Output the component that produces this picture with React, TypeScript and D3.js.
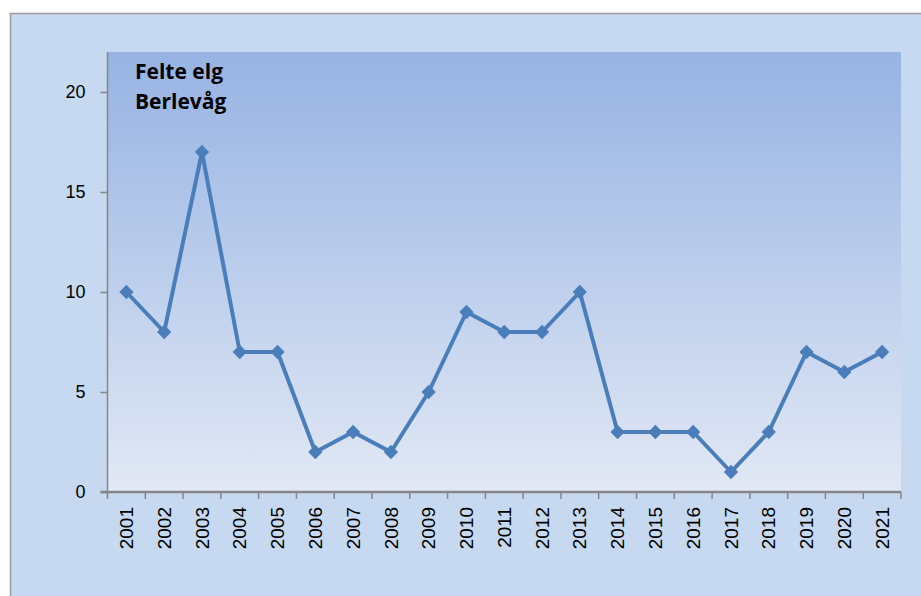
import * as d3 from 'd3';
import { useEffect, useRef } from 'react';

const years = ['2001', '2002', '2003', '2004', '2005', '2006', '2007', '2008', '2009', '2010', '2011',
  '2012', '2013', '2014', '2015', '2016', '2017', '2018', '2019', '2020', '2021'];
const felte = [10, 8, 17, 7, 7, 2, 3, 2, 5, 9, 8, 8, 10, 3, 3, 3, 1, 3, 7, 6, 7];
const yTicks = [0, 5, 10, 15, 20];
const titleLines = ['Felte elg', 'Berlevåg'];

export default function App() {
  const svgRef = useRef<SVGSVGElement>(null);

  useEffect(() => {
    const svg = d3.select(svgRef.current);
    svg.selectAll('*').remove();

    const width = 921;
    const height = 596;
    const left = 107.5;
    const right = 901;
    const top = 52;
    const bottom = 492;

    const x = d3.scaleBand<string>().domain(years).range([left, right]);
    const y = d3.scaleLinear().domain([0, 22]).range([bottom, top]);

    // gradient for plot area
    const defs = svg.append('defs');
    const grad = defs.append('linearGradient')
      .attr('id', 'plotGrad')
      .attr('x1', 0).attr('y1', 0).attr('x2', 0).attr('y2', 1);
    grad.append('stop').attr('offset', '0%').attr('stop-color', '#96b3e3');
    grad.append('stop').attr('offset', '100%').attr('stop-color', '#e2e8f5');

    // chart area
    svg.append('rect')
      .attr('x', 10.5).attr('y', 13.5)
      .attr('width', width).attr('height', height)
      .attr('fill', '#c6d9f0')
      .attr('stroke', '#9c9c9c')
      .attr('stroke-width', 1.5);

    svg.append('rect')
      .attr('x', left).attr('y', top)
      .attr('width', right - left).attr('height', bottom - top)
      .attr('fill', 'url(#plotGrad)');

    // y axis
    const yAxis = svg.append('g')
      .attr('transform', `translate(${left},0)`)
      .call(d3.axisLeft(y).tickValues(yTicks).tickSize(7).tickPadding(15))
      .call(g => g.select('.domain').attr('stroke', '#868686').attr('stroke-width', 1.5)
        .attr('d', `M0,${top}V${bottom}`));
    yAxis.selectAll('.tick line').attr('stroke', '#868686').attr('stroke-width', 1.5);
    yAxis.selectAll('text')
      .attr('fill', '#000')
      .style('font-family', '"Liberation Sans", Arial, sans-serif')
      .style('font-size', '18px');

    // x axis
    const xAxis = svg.append('g')
      .attr('transform', `translate(0,${bottom})`)
      .call(d3.axisBottom(x).tickSize(0).tickPadding(0))
      .call(g => g.select('.domain').attr('stroke', '#868686').attr('stroke-width', 2.5)
        .attr('d', `M${left - 7},0H${right}`));
    xAxis.selectAll('.tick line').remove();
    xAxis.selectAll('.tick text')
      .attr('fill', '#000')
      .attr('transform', 'rotate(-90)')
      .attr('x', -15)
      .attr('y', 0)
      .attr('dy', '0.35em')
      .attr('text-anchor', 'end')
      .style('font-family', '"Liberation Sans", Arial, sans-serif')
      .style('font-size', '19px');

    // category boundary ticks
    const bounds = years.map(d => x(d)!).concat([right]);
    xAxis.append('g').selectAll('line')
      .data(bounds)
      .join('line')
      .attr('x1', d => d).attr('x2', d => d)
      .attr('y1', 0).attr('y2', 7)
      .attr('stroke', '#868686')
      .attr('stroke-width', 1.5);

    // line
    const cx = (d: string) => x(d)! + x.bandwidth() / 2;
    const line = d3.line<number>()
      .x((_, i) => cx(years[i]))
      .y(d => y(d));

    svg.append('path')
      .datum(felte)
      .attr('fill', 'none')
      .attr('stroke', '#4a7ebb')
      .attr('stroke-width', 4)
      .attr('stroke-linejoin', 'round')
      .attr('d', line);

    svg.append('g').selectAll('path')
      .data(felte)
      .join('path')
      .attr('transform', (d, i) => `translate(${cx(years[i])},${y(d)})`)
      .attr('d', d3.symbol(d3.symbolDiamond2, 130)())
      .attr('fill', '#4a7ebb');

    // title
    svg.append('g').selectAll('text')
      .data(titleLines)
      .join('text')
      .attr('x', 135)
      .attr('y', (_, i) => 79 + i * 30)
      .attr('fill', '#000')
      .style('font-family', '"Open Sans", "Noto Sans", sans-serif')
      .style('font-weight', 'bold')
      .style('font-size', '21px')
      .text(d => d);
  }, []);

  return (
    <svg ref={svgRef} width={921} height={596}
      style={{ position: 'absolute', left: 0, top: 0, background: '#fff' }} />
  );
}
